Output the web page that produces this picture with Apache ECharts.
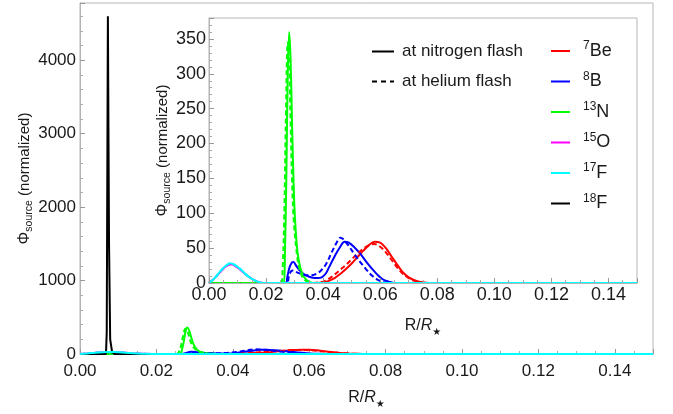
<!DOCTYPE html>
<html>
<head>
<meta charset="utf-8">
<script src="https://cdn.jsdelivr.net/npm/echarts@6/dist/echarts.min.js"></script>
<style>
  html, body { margin: 0; padding: 0; background: #fff; }
  #chart { width: 673px; height: 414px; }
</style>
</head>
<body>
<div id="chart"></div>
<script>
// ---------------- DATA ----------------
// x = R/R*, y = Phi_source (normalized)
const be7X_N = [0, 0.038, 0.040, 0.042, 0.044, 0.046, 0.048, 0.050, 0.052, 0.054, 0.056, 0.058, 0.060, 0.062, 0.064, 0.066, 0.068, 0.070, 0.072, 0.074, 0.076, 0.078, 0.15];
const be7Y_N = [0, 0, 1, 3, 7, 13, 20, 28, 37, 46, 54, 59, 58, 50, 38, 26, 15, 8, 4, 1.5, 0.5, 0, 0];
const be7X_He = [0, 0.036, 0.040, 0.042, 0.044, 0.046, 0.048, 0.050, 0.052, 0.054, 0.056, 0.058, 0.060, 0.062, 0.064, 0.066, 0.068, 0.070, 0.072, 0.074, 0.076, 0.15];
const be7Y_He = [0, 0, 2, 6, 12, 19, 26, 34, 42, 49, 54, 56, 52, 44, 33, 22, 13, 7, 3, 1, 0, 0];

const b8X_N = [0, 0.0268, 0.0275, 0.0282, 0.0290, 0.0296, 0.0305, 0.0320, 0.0340, 0.0360, 0.0380, 0.0395, 0.0410, 0.0420, 0.0440, 0.0460, 0.0475, 0.0490, 0.0510, 0.0530, 0.0550, 0.0570, 0.0590, 0.0610, 0.0630, 0.0650, 0.15];
const b8Y_N = [0, 0, 10, 22, 29, 30, 25, 17, 11, 8, 7, 8, 14, 22, 38, 52, 59, 58, 51, 42, 31, 21, 12, 5, 2, 0, 0];
const b8X_He = [0, 0.0272, 0.0280, 0.0288, 0.0295, 0.0310, 0.0330, 0.0350, 0.0370, 0.0390, 0.0410, 0.0430, 0.0450, 0.0460, 0.0470, 0.0490, 0.0510, 0.0530, 0.0550, 0.0570, 0.0590, 0.0610, 0.0630, 0.15];
const b8Y_He = [0, 0, 10, 17, 18, 15, 12, 11, 12, 17, 27, 44, 60, 65, 63, 53, 41, 30, 20, 11, 5, 1.5, 0, 0];

const n13X_N = [0, 0.0262, 0.0266, 0.0271, 0.0276, 0.0281, 0.0286, 0.0291, 0.0296, 0.0301, 0.0310, 0.0320, 0.0330, 0.0340, 0.0350, 0.0360, 0.0370, 0.15];
const n13Y_N = [0, 0, 40, 150, 300, 360, 320, 230, 150, 95, 45, 22, 11, 5, 2, 0.5, 0, 0];
const n13X_He = [0, 0.0252, 0.0258, 0.0264, 0.0270, 0.0276, 0.0281, 0.0286, 0.0291, 0.0297, 0.0310, 0.0320, 0.0330, 0.0340, 0.0350, 0.0360, 0.15];
const n13Y_He = [0, 0, 20, 100, 250, 345, 320, 230, 150, 90, 35, 16, 7, 3, 1, 0, 0];

const o15X = [0, 0.002, 0.004, 0.006, 0.0076, 0.009, 0.011, 0.013, 0.015, 0.017, 0.019, 0.15];
const o15Y_N = [0, 7, 16, 24, 27, 25, 19, 12, 6, 2, 0, 0];
const o15Y_He = [0, 7, 16, 24, 27, 25, 19, 12, 6, 2, 0, 0];

const f17X = [0, 0.002, 0.004, 0.006, 0.0076, 0.009, 0.011, 0.013, 0.015, 0.017, 0.019, 0.15];
const f17Y_N = [0, 7, 17, 25, 28.5, 26, 20, 12, 6, 2, 0, 0];
const f17Y_He = [0, 7, 17, 25, 28.5, 26, 20, 12, 6, 2, 0, 0];

const f18X = [0, 0.0068, 0.0070, 0.0073, 0.0076, 0.0079, 0.0084, 0.0090, 0.15];
const f18Y = [0, 0, 300, 4600, 1500, 200, 30, 0, 0];

const isotopeNames = ['7Be', '8B', '13N', '15O', '17F', '18F'];
const isotopeColors = ['#ff0000', '#0000ff', '#00ff00', '#ff00ff', '#00ffff', '#000000'];
const flashNames = ['at nitrogen flash', 'at helium flash'];

const mainYTicks = [0, 1000, 2000, 3000, 4000];
const insetYTicks = [0, 50, 100, 150, 200, 250, 300, 350];
const xTicks = [0, 0.02, 0.04, 0.06, 0.08, 0.10, 0.12, 0.14];

// ---------------- BUILD ----------------
const zip = (xs, ys) => xs.map((x, i) => [x, ys[i]]);
const FONT = "'Liberation Sans', Arial, sans-serif";
const GRAY = '#b5b5b5';
const TXT = '#1a1a1a';

const curves = [
  { name: '7Be', x: be7X_N, y: be7Y_N, dash: false, c: 0 },
  { name: '8B', x: b8X_N, y: b8Y_N, dash: false, c: 1 },
  { name: '13N', x: n13X_N, y: n13Y_N, dash: false, c: 2 },
  { name: '15O', x: o15X, y: o15Y_N, dash: false, c: 3 },
  { name: '7Be', x: be7X_He, y: be7Y_He, dash: true, c: 0 },
  { name: '8B', x: b8X_He, y: b8Y_He, dash: true, c: 1 },
  { name: '13N', x: n13X_He, y: n13Y_He, dash: true, c: 2 },
  { name: '15O', x: o15X, y: o15Y_He, dash: true, c: 3 },
  { name: '17F', x: f17X, y: f17Y_He, dash: true, c: 4 },
  { name: '18F', x: f18X, y: f18Y, dash: false, c: 5 },
  { name: '17F', x: f17X, y: f17Y_N, dash: false, c: 4 }
];

const series = [];
[0, 1].forEach(g => {
  curves.forEach(cv => {
    if (g === 1 && cv.name === '18F') return; // off-scale in the inset
    series.push({
      type: 'line',
      name: cv.dash ? cv.name + ' (He)' : cv.name,
      xAxisIndex: g, yAxisIndex: g,
      data: zip(cv.x, cv.y),
      showSymbol: false, symbol: 'none',
      smooth: cv.name === '18F' ? false : 0.35,
      lineStyle: { color: isotopeColors[cv.c], width: 2, type: cv.dash ? [5, 3] : 'solid' },
      itemStyle: { color: isotopeColors[cv.c] },
      clip: true, silent: true, animation: false,
      z: 2 + g * 10
    });
  });
});
// legend-only series for the line-style key
series.push({ type: 'line', name: flashNames[0], xAxisIndex: 1, yAxisIndex: 1, data: [], symbol: 'none', showSymbol: false,
  lineStyle: { color: '#000', width: 2.5, type: 'solid' }, itemStyle: { color: '#000' } });
series.push({ type: 'line', name: flashNames[1], xAxisIndex: 1, yAxisIndex: 1, data: [], symbol: 'none', showSymbol: false,
  lineStyle: { color: '#000', width: 2.5, type: [5, 4] }, itemStyle: { color: '#000' } });

const fmtX = v => xTicks.some(t => Math.abs(t - v) < 1e-9) ? v.toFixed(2) : '';
const fmtYMain = v => mainYTicks.includes(Math.round(v)) && Math.abs(v - Math.round(v)) < 1e-6 ? String(Math.round(v)) : '';
const fmtYInset = v => insetYTicks.includes(Math.round(v)) && Math.abs(v - Math.round(v)) < 1e-6 ? String(Math.round(v)) : '';

const axisCommon = {
  axisLine: { show: true, lineStyle: { color: GRAY, width: 1 } },
  axisTick: { show: true, inside: true, length: 5, lineStyle: { color: '#999' } },
  splitLine: { show: false },
  minorSplitLine: { show: false },
  nameMoveOverlap: false
};

const phiName = {
  name: '{phi|Φ}{sub|source}{n| (normalized)}',
  nameLocation: 'middle',
  nameTextStyle: {
    color: TXT, fontFamily: FONT,
    rich: {
      phi: { fontSize: 16, fontFamily: FONT, color: TXT, lineHeight: 20 },
      sub: { fontSize: 10.5, fontFamily: FONT, color: TXT, verticalAlign: 'bottom', lineHeight: 11 },
      n: { fontSize: 15, fontFamily: FONT, color: TXT, lineHeight: 20 }
    }
  }
};
const rName = {
  name: '{n|R/}{i|R}{s|★}',
  nameLocation: 'middle',
  nameTextStyle: {
    color: TXT, fontFamily: FONT,
    rich: {
      n: { fontSize: 16, fontFamily: FONT, color: TXT, lineHeight: 22 },
      i: { fontSize: 16, fontFamily: FONT, fontStyle: 'italic', color: TXT, lineHeight: 22 },
      s: { fontSize: 10, fontFamily: 'DejaVu Sans', color: TXT, verticalAlign: 'bottom', lineHeight: 10 }
    }
  }
};
const lbl = (fmt, margin, size) => ({ color: TXT, fontFamily: FONT, fontSize: size, formatter: fmt, showMaxLabel: false, margin: margin });
const minor = n => ({ show: true, splitNumber: n, length: 3, lineStyle: { color: '#aaa' } });

const option = {
  backgroundColor: '#fff',
  animation: false,
  grid: [
    { left: 80, right: 20, top: 3, bottom: 57, show: true, borderColor: GRAY, borderWidth: 1, backgroundColor: 'transparent' },
    { left: 209, right: 36, top: 18, bottom: 131, show: true, borderColor: GRAY, borderWidth: 1, backgroundColor: '#fff', z: 5 }
  ],
  xAxis: [
    Object.assign({ type: 'value', gridIndex: 0, min: 0, max: 0.15, interval: 0.02, nameGap: 33 }, axisCommon, rName,
      { axisLabel: lbl(fmtX, 9, 17), minorTick: minor(4) }),
    Object.assign({ type: 'value', gridIndex: 1, min: 0, max: 0.15, interval: 0.02, nameGap: 32, z: 15 }, axisCommon, rName,
      { axisLabel: lbl(fmtX, 3, 18), minorTick: minor(4) })
  ],
  yAxis: [
    Object.assign({ type: 'value', gridIndex: 0, min: 0, max: 4780, interval: 1000, nameGap: 45 }, axisCommon, phiName,
      { axisLabel: lbl(fmtYMain, 4, 17), minorTick: minor(5) }),
    Object.assign({ type: 'value', gridIndex: 1, min: 0, max: 380, interval: 50, nameGap: 36, z: 15 }, axisCommon, phiName,
      { axisLabel: lbl(fmtYInset, 3, 18), minorTick: minor(5) })
  ],
  legend: [
    {
      data: isotopeNames,
      orient: 'vertical', left: 546, top: 35,
      itemWidth: 19, itemHeight: 2, icon: 'rect', itemGap: 10.5,
      selectedMode: false, z: 20,
      formatter: name => {
        const m = name.match(/^(\d+)(\D+)$/);
        return '{sup|' + m[1] + '}{el|' + m[2] + '}';
      },
      textStyle: {
        padding: [0, 0, 0, 8],
        rich: {
          sup: { fontSize: 12, fontFamily: FONT, color: TXT, verticalAlign: 'top', lineHeight: 12 },
          el: { fontSize: 18, fontFamily: FONT, color: TXT, lineHeight: 22 }
        }
      }
    },
    {
      data: flashNames,
      orient: 'vertical', left: 366, top: 38,
      itemWidth: 22, itemHeight: 10, itemGap: 13,
      selectedMode: false, z: 20,
      itemStyle: { opacity: 0, borderWidth: 0 },
      textStyle: { fontSize: 17, fontFamily: FONT, color: TXT, padding: [0, 0, 0, 3] }
    }
  ],
  series: series
};

const chart = echarts.init(document.getElementById('chart'), null, { renderer: 'canvas' });
chart.setOption(option);
</script>
</body>
</html>
